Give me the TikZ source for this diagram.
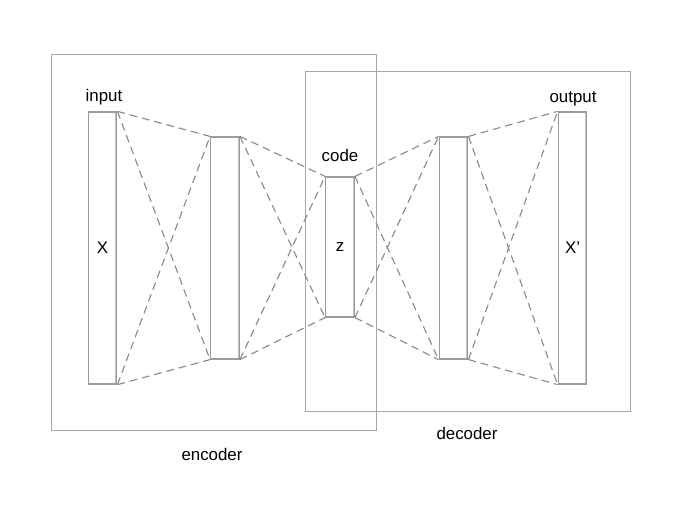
\documentclass[tikz,border=0pt]{standalone}
\usepackage{fontspec}
\setmainfont{Liberation Sans}
\usepackage{xcolor}
\usetikzlibrary{positioning}
\definecolor{marco}{HTML}{A8A8A8}
\definecolor{capa}{HTML}{9A9A9A}
\definecolor{enlace}{HTML}{8A8A8A}

\begin{document}
\begin{tikzpicture}[x=0.025cm, y=-0.025cm,
  marcobox/.style={draw=marco, line width=0.7pt},
  capabox/.style={draw=capa, line width=0.8pt, fill=white, inner sep=0pt, minimum width=0.72cm,
                  font=\fontsize{12}{14}\selectfont,
                  path picture={\draw[capa!60, line width=2.4pt]
                    (path picture bounding box.north east) -- (path picture bounding box.south east);}},
  tag/.style={font=\fontsize{12}{14}\selectfont, inner sep=1pt},
  enlace/.style={draw=enlace, line width=0.8pt, dash pattern=on 5.5pt off 3.5pt}]
\useasboundingbox (0,0) rectangle (677,506);
% encoder / decoder frames
\draw[marcobox] (51,54) rectangle (376,430);
\draw[marcobox] (305,71) rectangle (630,411);
% layers
\node[capabox, minimum height=6.8cm]  (in)   at (102.5,248) {X};
\node[capabox, minimum height=5.55cm] (h1)   at (225,248)   {};
\node[capabox, minimum height=3.5cm]  (code) at (340,247)   {z};
\node[capabox, minimum height=5.55cm] (h2)   at (453.5,248) {};
\node[capabox, minimum height=6.8cm]  (out)  at (572.5,248) {X'};
% connections between layers
\foreach \a/\b in {in/h1, h1/code, code/h2, h2/out} {
  \draw[enlace] (\a.north east) -- (\b.north west);
  \draw[enlace] (\a.south east) -- (\b.south west);
  \draw[enlace] (\a.north east) -- (\b.south west);
  \draw[enlace] (\a.south east) -- (\b.north west);
}
\node[tag] (inlbl)   at (104,97)  {input};
\node[tag] (codelbl) at (340,155) {code};
\node[tag] (outlbl)  at (573,99)  {output};
\node[tag] (enclbl)  at (212,454) {encoder};
\node[tag] (declbl)  at (467,433) {decoder};
\end{tikzpicture}
\end{document}
